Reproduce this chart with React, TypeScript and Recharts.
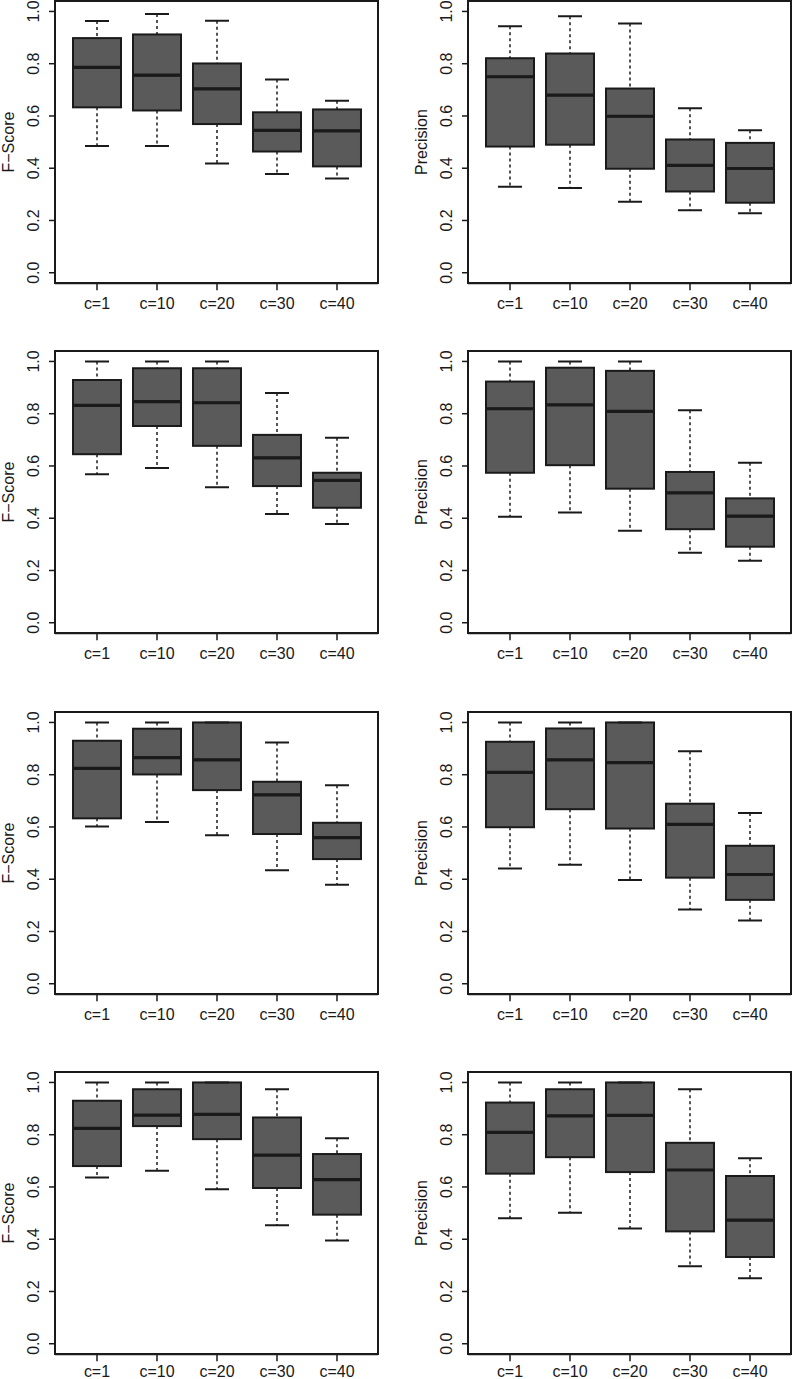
import React from 'react';
import { ComposedChart, Bar, XAxis, YAxis, Label } from 'recharts';

// ---------- data ----------
const categories = ['c=1', 'c=10', 'c=20', 'c=30', 'c=40'];
const yTicks = [0, 0.2, 0.4, 0.6, 0.8, 1.0];
const fLabel = 'F\u2212Score';
const pLabel = 'Precision';

// Row 1
const f1Lower = [0.485, 0.485, 0.418, 0.378, 0.361];
const f1Q1 = [0.633, 0.621, 0.569, 0.464, 0.407];
const f1Median = [0.786, 0.756, 0.704, 0.545, 0.543];
const f1Q3 = [0.898, 0.912, 0.801, 0.614, 0.625];
const f1Upper = [0.963, 0.99, 0.964, 0.74, 0.658];

const p1Lower = [0.329, 0.324, 0.272, 0.239, 0.228];
const p1Q1 = [0.483, 0.49, 0.398, 0.311, 0.268];
const p1Median = [0.75, 0.68, 0.599, 0.411, 0.399];
const p1Q3 = [0.821, 0.839, 0.705, 0.51, 0.497];
const p1Upper = [0.943, 0.982, 0.954, 0.63, 0.545];

// Row 2
const f2Lower = [0.568, 0.592, 0.519, 0.416, 0.378];
const f2Q1 = [0.645, 0.753, 0.677, 0.523, 0.44];
const f2Median = [0.832, 0.846, 0.842, 0.631, 0.545];
const f2Q3 = [0.929, 0.974, 0.974, 0.719, 0.574];
const f2Upper = [1.0, 1.0, 1.0, 0.879, 0.708];

const p2Lower = [0.406, 0.422, 0.352, 0.268, 0.237];
const p2Q1 = [0.574, 0.603, 0.513, 0.358, 0.291];
const p2Median = [0.819, 0.834, 0.809, 0.497, 0.408];
const p2Q3 = [0.923, 0.976, 0.964, 0.577, 0.476];
const p2Upper = [1.0, 1.0, 1.0, 0.813, 0.612];

// Row 3
const f3Lower = [0.602, 0.619, 0.568, 0.434, 0.379];
const f3Q1 = [0.633, 0.801, 0.741, 0.573, 0.477];
const f3Median = [0.824, 0.865, 0.857, 0.723, 0.559];
const f3Q3 = [0.93, 0.976, 1.0, 0.773, 0.616];
const f3Upper = [1.0, 1.0, 1.0, 0.923, 0.76];

const p3Lower = [0.441, 0.455, 0.397, 0.284, 0.242];
const p3Q1 = [0.599, 0.668, 0.594, 0.406, 0.321];
const p3Median = [0.809, 0.857, 0.846, 0.61, 0.418];
const p3Q3 = [0.926, 0.977, 1.0, 0.689, 0.528];
const p3Upper = [1.0, 1.0, 1.0, 0.89, 0.653];

// Row 4
const f4Lower = [0.636, 0.662, 0.591, 0.453, 0.395];
const f4Q1 = [0.68, 0.833, 0.783, 0.596, 0.494];
const f4Median = [0.824, 0.875, 0.878, 0.722, 0.628];
const f4Q3 = [0.93, 0.974, 1.0, 0.866, 0.726];
const f4Upper = [1.0, 1.0, 1.0, 0.974, 0.786];

const p4Lower = [0.48, 0.501, 0.441, 0.297, 0.251];
const p4Q1 = [0.651, 0.714, 0.657, 0.43, 0.332];
const p4Median = [0.809, 0.872, 0.874, 0.665, 0.473];
const p4Q3 = [0.923, 0.974, 1.0, 0.769, 0.642];
const p4Upper = [1.0, 1.0, 1.0, 0.974, 0.71];

// ---------- styling / layout ----------
const FONT = '"Liberation Sans", Arial, Helvetica, sans-serif';
const TEXT = '#1a1a1a';
const LINE = '#1a1a1a';
const FILL = '#5a5a5a';

const COL_FRAME_LEFT = [54.5, 467.7];
const ROW_FRAME_TOP = [0.55, 350.55, 712.25, 1071.55];
const ROW_XLABEL_OFFSET = [26, 26, 26, 22.5];
const PLOT_W = 323;
const PLOT_H = 282.2;
const Y_AXIS_W = 55;
const X_AXIS_H = 40;
const M_TOP = 5;
const M_RIGHT = 2;

function buildTable(lo: number[], q1: number[], med: number[], q3: number[], hi: number[]) {
  return categories.map((name, i) => ({
    name,
    base: lo[i],
    lw: q1[i] - lo[i],
    lb: med[i] - q1[i],
    ub: q3[i] - med[i],
    uw: hi[i] - q3[i],
  }));
}

const panels = [
  { label: fLabel, row: 0, col: 0, data: buildTable(f1Lower, f1Q1, f1Median, f1Q3, f1Upper) },
  { label: pLabel, row: 0, col: 1, data: buildTable(p1Lower, p1Q1, p1Median, p1Q3, p1Upper) },
  { label: fLabel, row: 1, col: 0, data: buildTable(f2Lower, f2Q1, f2Median, f2Q3, f2Upper) },
  { label: pLabel, row: 1, col: 1, data: buildTable(p2Lower, p2Q1, p2Median, p2Q3, p2Upper) },
  { label: fLabel, row: 2, col: 0, data: buildTable(f3Lower, f3Q1, f3Median, f3Q3, f3Upper) },
  { label: pLabel, row: 2, col: 1, data: buildTable(p3Lower, p3Q1, p3Median, p3Q3, p3Upper) },
  { label: fLabel, row: 3, col: 0, data: buildTable(f4Lower, f4Q1, f4Median, f4Q3, f4Upper) },
  { label: pLabel, row: 3, col: 1, data: buildTable(p4Lower, p4Q1, p4Median, p4Q3, p4Upper) },
];

// ---------- shapes ----------
const LowerWhisker = (props: any) => {
  const { x, y, width, height } = props;
  if (x == null || y == null) return <g />;
  const cx = x + width / 2;
  const yb = y + height;
  return (
    <g>
      <line x1={cx} x2={cx} y1={y} y2={yb} stroke={LINE} strokeWidth={1.5} strokeDasharray="3 3" />
      <line x1={x + width / 4} x2={x + (3 * width) / 4} y1={yb} y2={yb} stroke={LINE} strokeWidth={2} />
    </g>
  );
};

const UpperWhisker = (props: any) => {
  const { x, y, width, height } = props;
  if (x == null || y == null) return <g />;
  const cx = x + width / 2;
  const yb = y + height;
  return (
    <g>
      <line x1={cx} x2={cx} y1={y} y2={yb} stroke={LINE} strokeWidth={1.5} strokeDasharray="3 3" />
      <line x1={x + width / 4} x2={x + (3 * width) / 4} y1={y} y2={y} stroke={LINE} strokeWidth={2} />
    </g>
  );
};

const LowerBox = (props: any) => {
  const { x, y, width, height } = props;
  if (x == null || y == null) return <g />;
  return <rect x={x} y={y} width={width} height={height} fill={FILL} stroke={LINE} strokeWidth={2} />;
};

const UpperBox = (props: any) => {
  const { x, y, width, height } = props;
  if (x == null || y == null) return <g />;
  const ym = y + height;
  return (
    <g>
      <rect x={x} y={y} width={width} height={height} fill={FILL} stroke={LINE} strokeWidth={2} />
      <line x1={x} x2={x + width} y1={ym} y2={ym} stroke={LINE} strokeWidth={3.2} />
    </g>
  );
};

const YTick = (props: any) => {
  const { x, y, payload } = props;
  return (
    <text
      x={x}
      y={y}
      transform={`rotate(-90 ${x} ${y})`}
      textAnchor="middle"
      fontSize={16}
      fontFamily={FONT}
      fill={TEXT}
    >
      {Number(payload.value).toFixed(1)}
    </text>
  );
};

const makeXTick = (offset: number) => (props: any) => {
  const { x, y, payload } = props;
  return (
    <text x={x} y={y + offset - 7} textAnchor="middle" fontSize={16} fontFamily={FONT} fill={TEXT}>
      {payload.value}
    </text>
  );
};

const makeYLabel = (text: string) => (props: any) => {
  const vb = props.viewBox || { x: 0, y: M_TOP, width: Y_AXIS_W, height: PLOT_H };
  const lx = vb.x + vb.width - 41;
  const ly = vb.y + vb.height / 2;
  return (
    <text
      x={lx}
      y={ly}
      transform={`rotate(-90 ${lx} ${ly})`}
      textAnchor="middle"
      fontSize={16}
      fontFamily={FONT}
      fill={TEXT}
    >
      {text}
    </text>
  );
};

function Panel({ label, row, col, data }: any) {
  const left = COL_FRAME_LEFT[col] - Y_AXIS_W;
  const top = ROW_FRAME_TOP[row] - M_TOP;
  const w = Y_AXIS_W + PLOT_W + M_RIGHT;
  const h = M_TOP + PLOT_H + X_AXIS_H;
  const domain: [number, number] = [-0.04, 1.04];
  const XTick = makeXTick(ROW_XLABEL_OFFSET[row]);
  return (
    <div style={{ position: 'absolute', left, top, width: w, height: h }}>
      <ComposedChart
        width={w}
        height={h}
        data={data}
        margin={{ top: M_TOP, right: M_RIGHT, left: 0, bottom: 0 }}
        barSize={48}
      >
        <XAxis
          dataKey="name"
          type="category"
          padding={{ left: 12, right: 11 }}
          height={X_AXIS_H}
          tickSize={7}
          tickMargin={0}
          tick={<XTick />}
          tickLine={{ stroke: LINE, strokeWidth: 1.5 }}
          axisLine={{ stroke: LINE, strokeWidth: 2 }}
          interval={0}
        />
        <YAxis
          type="number"
          domain={domain}
          ticks={yTicks}
          allowDataOverflow
          width={Y_AXIS_W}
          tickSize={6}
          tickMargin={10}
          tick={<YTick />}
          tickLine={{ stroke: LINE, strokeWidth: 1.5 }}
          axisLine={{ stroke: LINE, strokeWidth: 2 }}
          interval={0}
        >
          <Label content={makeYLabel(label)} />
        </YAxis>
        <Bar dataKey="base" stackId="box" fill="none" stroke="none" isAnimationActive={false} />
        <Bar dataKey="lw" stackId="box" shape={<LowerWhisker />} isAnimationActive={false} />
        <Bar dataKey="lb" stackId="box" shape={<LowerBox />} isAnimationActive={false} />
        <Bar dataKey="ub" stackId="box" shape={<UpperBox />} isAnimationActive={false} />
        <Bar dataKey="uw" stackId="box" shape={<UpperWhisker />} isAnimationActive={false} />
      </ComposedChart>
      <div
        style={{
          position: 'absolute',
          left: Y_AXIS_W - 1,
          top: M_TOP - 1,
          width: PLOT_W + 2,
          height: PLOT_H + 2,
          border: `2px solid ${LINE}`,
          boxSizing: 'border-box',
          pointerEvents: 'none',
        }}
      />
    </div>
  );
}

export default function App() {
  return (
    <div
      style={{
        position: 'absolute',
        left: 0,
        top: 0,
        width: 792,
        height: 1379,
        overflow: 'hidden',
        background: '#ffffff',
      }}
    >
      {panels.map((p, i) => (
        <Panel key={i} {...p} />
      ))}
    </div>
  );
}
